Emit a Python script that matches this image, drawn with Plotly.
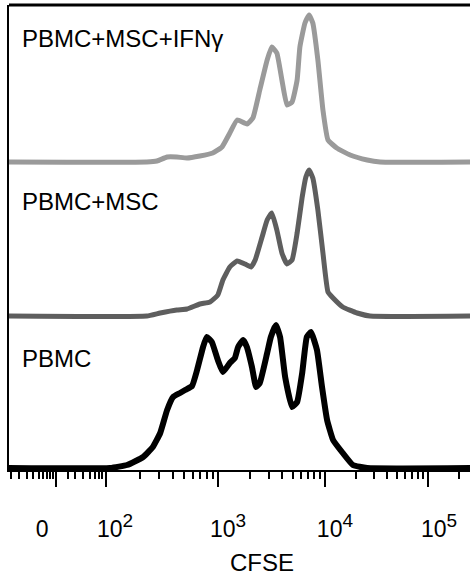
import numpy as np
import plotly.graph_objects as go

# ---------------- data (display channel 0-1000, counts) ----------------
CH_PBMC = [0, 219, 256, 291, 312, 328, 343, 356, 371, 382, 397, 408, 421, 429, 440, 453,
           464, 479, 490, 497, 508, 516, 527, 536, 544, 560, 568, 579, 588, 599, 614, 625,
           636, 646, 655, 668, 679, 690, 703, 724, 746, 777, 1000]
CT_PBMC = [0, 0, 3, 11, 21, 35, 58, 71, 75, 78, 82, 98, 121, 131, 126, 108,
           96, 105, 110, 121, 128, 121, 101, 81, 85, 115, 131, 143, 131, 91, 61, 66,
           95, 131, 136, 118, 81, 48, 28, 15, 3, 0, 0]

CH_MSC = [0, 299, 328, 364, 386, 414, 436, 453, 464, 479, 495, 512, 525, 534, 549, 560,
          570, 581, 592, 603, 614, 625, 636, 644, 651, 659, 670, 681, 692, 703, 724, 755,
          783, 1000]
CT_MSC = [0, 0, 3, 6, 7, 12, 14, 21, 36, 49, 55, 52, 49, 56, 79, 96,
          103, 86, 63, 52, 56, 83, 119, 139, 146, 138, 106, 63, 24, 18, 9, 3,
          0, 0]

CH_IFN = [0, 299, 321, 343, 364, 386, 414, 442, 462, 479, 495, 516, 529, 544, 560, 570,
          581, 592, 603, 614, 625, 631, 642, 651, 659, 670, 681, 692, 711, 740, 777, 805,
          1000]
CT_IFN = [0, 0, 1, 5, 5, 4, 6, 9, 15, 29, 42, 38, 44, 72, 102, 115,
          109, 82, 57, 60, 82, 115, 139, 147, 139, 102, 52, 22, 14, 7, 2, 0,
          0]

SAMPLES = ["PBMC", "PBMC+MSC", "PBMC+MSC+IFNγ"]
COLORS = ["#000000", "#5e5e5e", "#9a9a9a"]
WIDTHS = [6, 5, 5]

# axis tick layout (display channels)
DECADE_EXP = [2, 3, 4, 5, 6]
DECADE_CH = [210, 453, 685, 909, 1133]
MAJOR_TICKS = [102, 210, 453, 685, 909]
LINEAR_MINOR = [4, 22, 39, 52, 65, 74, 82, 89, 95, 128, 143, 161, 176, 187, 195, 202]
LOG_MINOR = [float(np.interp(np.log10(m * 10 ** k), DECADE_EXP, DECADE_CH))
             for k in (2, 3, 4, 5) for m in range(2, 10)]
MINOR_TICKS = LINEAR_MINOR + [v for v in LOG_MINOR if v <= 1000]
LABEL_POS = [72, 230, 475, 707, 933]
EXPONENTS = [2, 3, 4, 5]
LABEL_TEXT = ["0"] + ["10<sup><span style='font-size:19px'>%d</span></sup>" % e
                      for e in EXPONENTS]

FONT = "Liberation Sans, Arial, Helvetica, sans-serif"

fig = go.Figure()
series = [(CH_PBMC, CT_PBMC, "y"), (CH_MSC, CT_MSC, "y2"), (CH_IFN, CT_IFN, "y3")]
for (xs, ys, ya), name, col, w in zip(series, SAMPLES, COLORS, WIDTHS):
    fig.add_trace(go.Scatter(x=xs, y=ys, mode="lines", name=name, yaxis=ya, xaxis="x",
                             line=dict(color=col, width=w, shape="spline", smoothing=0.4),
                             showlegend=False, hoverinfo="skip"))
fig.add_trace(go.Scatter(x=[None], y=[None], xaxis="x2", yaxis="y", showlegend=False,
                         hoverinfo="skip"))

label_y = [110, 267, 430]
for name, yv in zip(SAMPLES, label_y):
    fig.add_annotation(x=24, y=yv, xref="x", yref="y", text=name, showarrow=False,
                       xanchor="left", yanchor="middle",
                       font=dict(family=FONT, size=24, color="black"))

fig.add_annotation(x=549, y=-0.198, xref="x", yref="paper", text="CFSE", showarrow=False,
                   xanchor="center", yanchor="middle",
                   font=dict(family=FONT, size=24, color="black"))

fig.add_shape(type="line", xref="paper", yref="paper", x0=0, x1=1, y0=1, y1=1,
              line=dict(color="black", width=3))

fig.update_layout(
    width=470, height=575,
    margin=dict(l=9, r=0, t=5, b=105),
    paper_bgcolor="white", plot_bgcolor="white",
    xaxis=dict(range=[0, 1000], showline=True, linecolor="black", linewidth=2,
               ticks="outside", tickmode="array", tickvals=MAJOR_TICKS, ticklen=15,
               tickwidth=2, tickcolor="black", showticklabels=False, showgrid=False,
               zeroline=False,
               minor=dict(tickmode="array", tickvals=MINOR_TICKS, ticks="outside",
                          ticklen=7, tickwidth=1.5, tickcolor="black", showgrid=False)),
    xaxis2=dict(range=[0, 1000], overlaying="x", side="bottom", anchor="y",
                tickmode="array", tickvals=LABEL_POS, ticktext=LABEL_TEXT,
                ticks="outside", ticklen=38, tickcolor="rgba(0,0,0,0)",
                showline=False, showgrid=False, zeroline=False,
                tickfont=dict(family=FONT, size=23, color="black")),
    yaxis=dict(range=[-2, 463], showline=True, linecolor="black", linewidth=2,
               showticklabels=False, ticks="", showgrid=False, zeroline=False),
    yaxis2=dict(range=[-2 - 152, 463 - 152], overlaying="y", visible=False),
    yaxis3=dict(range=[-2 - 306, 463 - 306], overlaying="y", visible=False),
)

fig.write_html("out.html")
